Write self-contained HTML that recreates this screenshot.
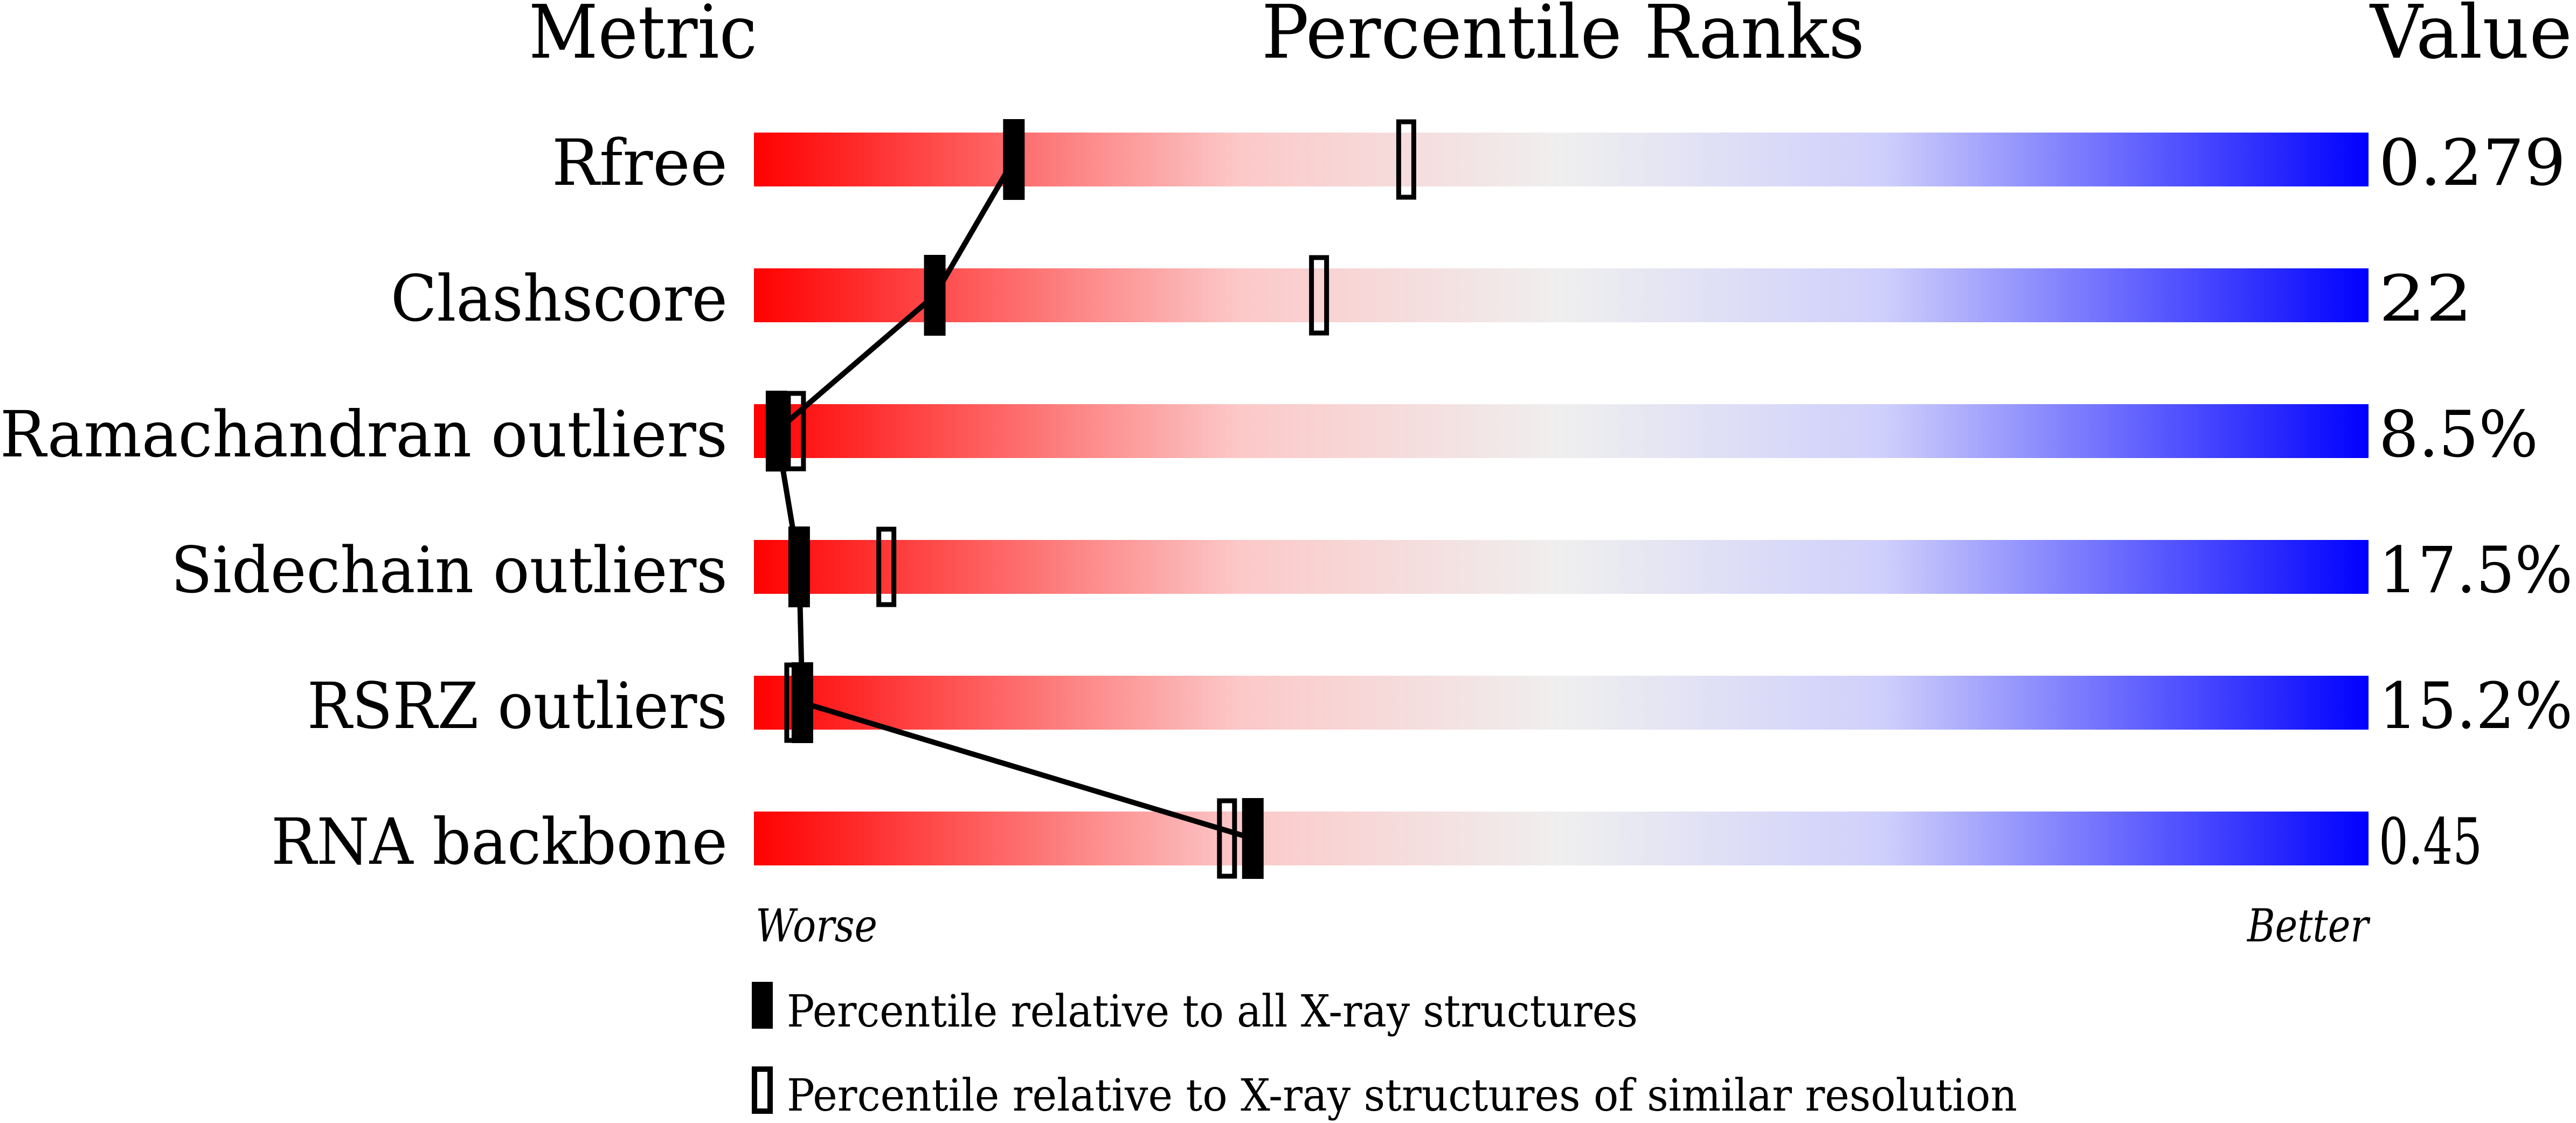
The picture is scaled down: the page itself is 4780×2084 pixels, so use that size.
<!DOCTYPE html>
<html><head><meta charset="utf-8"><style>
html,body{margin:0;padding:0;background:#fff;}
svg{display:block;}
text{font-family:"DejaVu Serif","Liberation Serif",serif;fill:#000;}
</style></head><body>
<svg id="chart" width="4780" height="2084" viewBox="0 0 4780 2084" xmlns="http://www.w3.org/2000/svg">
<defs>
<linearGradient id="grad" x1="0" x2="1" y1="0" y2="0">
<stop offset="0" stop-color="#ff0000"/>
<stop offset="0.3" stop-color="#fcc8c8"/>
<stop offset="0.5" stop-color="#efefef"/>
<stop offset="0.7" stop-color="#cfcffc"/>
<stop offset="1" stop-color="#0000ff"/>
</linearGradient>
</defs>
<text x="981" y="107" font-size="137" textLength="424" lengthAdjust="spacingAndGlyphs">Metric</text>
<text x="2341" y="107" font-size="137" textLength="1119" lengthAdjust="spacingAndGlyphs">Percentile Ranks</text>
<text x="4398" y="107" font-size="137" textLength="375" lengthAdjust="spacingAndGlyphs">Value</text>
<g id="rows"></g>
<text x="1402" y="1747" font-size="84" font-style="italic" textLength="226" lengthAdjust="spacingAndGlyphs">Worse</text>
<text x="4170" y="1747" font-size="84" font-style="italic" textLength="225" lengthAdjust="spacingAndGlyphs">Better</text>
<rect x="1395" y="1822" width="39" height="87" fill="#000"/>
<text x="1460" y="1905" font-size="82" textLength="1579" lengthAdjust="spacingAndGlyphs">Percentile relative to all X-ray structures</text>
<rect x="1400" y="1984" width="29" height="78" fill="none" stroke="#000" stroke-width="10"/>
<text x="1460" y="2061" font-size="82" textLength="2283" lengthAdjust="spacingAndGlyphs">Percentile relative to X-ray structures of similar resolution</text>
</svg>
<script>
const metrics = ["Rfree","Clashscore","Ramachandran outliers","Sidechain outliers","RSRZ outliers","RNA backbone"];
const values = ["0.279","22","8.5%","17.5%","15.2%","0.45"];
const pctAll = [16.1, 11.2, 1.4, 2.8, 3.0, 30.9];
const pctSimilar = [40.4, 35.0, 2.6, 8.2, 2.5, 29.3];

// text widths (layout, not data)
const labelW = [326, 625, 1350, 1033, 780, 847];
const valueW = [347, 174, 296, 360, 360, 192];

const X0 = 1399, X1 = 4395, ROW0 = 296, ROWSTEP = 252;
const xScale = p => X0 + (X1 - X0) * p / 100;
const yRow = i => ROW0 + ROWSTEP * i;
const NS = "http://www.w3.org/2000/svg";
const g = document.getElementById("rows");
function mk(tag, attrs){ const e = document.createElementNS(NS, tag); for (const k in attrs) e.setAttribute(k, attrs[k]); g.appendChild(e); return e; }

metrics.forEach((m, i) => {
  const y = yRow(i);
  const bar = mk("rect", {x:X0, y:y-50, width:X1-X0, height:100, fill:"url(#grad)"});
  
  
  const lab = mk("text", {x:1350 - labelW[i], y:y+47, "font-size":118, textLength:labelW[i], lengthAdjust:"spacingAndGlyphs"});
  lab.textContent = m;
  
  
  const val = mk("text", {x:4414, y:y+47, "font-size":118, textLength:valueW[i], lengthAdjust:"spacingAndGlyphs"});
  val.textContent = values[i];
  
  
});
const pts = pctAll.map((p, i) => xScale(p) + "," + yRow(i)).join(" ");
const line = mk("polyline", {points:pts, fill:"none", stroke:"#000", "stroke-width":10});


metrics.forEach((m, i) => {
  const y = yRow(i);
  const o = mk("rect", {x:xScale(pctSimilar[i])-14, y:y-70, width:28, height:140, fill:"none", stroke:"#000", "stroke-width":9});
  
  
  const b = mk("rect", {x:xScale(pctAll[i])-20, y:y-75, width:40, height:150, fill:"#000"});
  
  
});
</script>
</body></html>
